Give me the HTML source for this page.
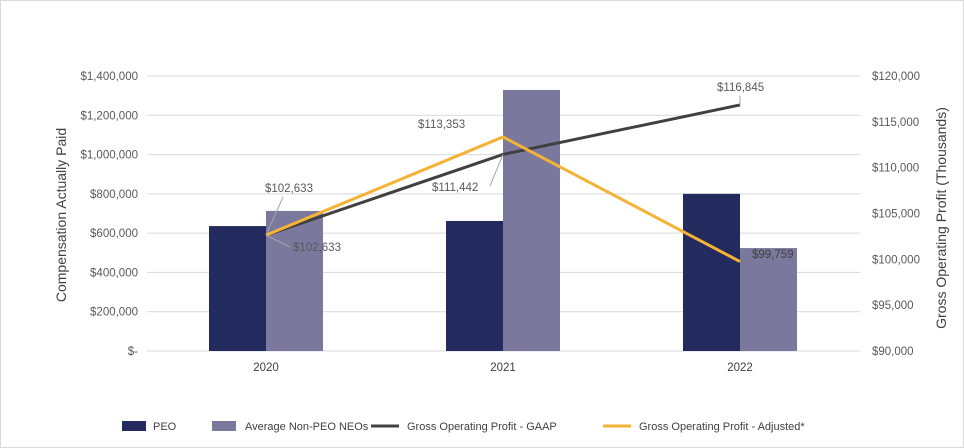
<!DOCTYPE html>
<html><head><meta charset="utf-8"><style>
body{margin:0;background:#fff;}
svg{display:block;font-family:"Liberation Sans",sans-serif;}
</style></head><body>
<svg id="chart" width="964" height="448" viewBox="0 0 964 448">
<rect x="0.5" y="0.5" width="963" height="447" fill="#fff" stroke="#d9d9d9"/>
<g id="grid"></g><g id="bars"></g><g id="lines"></g><g id="labels"></g><g id="axes"></g>
<text transform="translate(66,215) rotate(-90)" text-anchor="middle" font-size="14" fill="#404040">Compensation Actually Paid</text>
<text transform="translate(946,218) rotate(-90)" text-anchor="middle" font-size="14" fill="#404040">Gross Operating Profit (Thousands)</text>
<g font-size="11" fill="#404040">
<g><rect x="122" y="421" width="24" height="10" fill="#222a5e"/><text x="153" y="430">PEO</text></g>
<g><rect x="212" y="421" width="24" height="10" fill="#7b789e"/><text x="245" y="430">Average Non-PEO NEOs</text></g>
<g><line x1="371" y1="426" x2="399" y2="426" stroke="#404040" stroke-width="3"/><text x="407" y="430">Gross Operating Profit - GAAP</text></g>
<g><line x1="603" y1="426" x2="631" y2="426" stroke="#f5b335" stroke-width="3"/><text x="639" y="430">Gross Operating Profit - Adjusted*</text></g>
</g>
</svg>
<script>
const categories=["2020","2021","2022"];
const peoValues=[636000,662000,800000];
const neoValues=[713000,1329000,524000];
const gaapValues=[102633,111442,116845];
const adjustedValues=[102633,113353,99759];
const leftTicks=[0,200000,400000,600000,800000,1000000,1200000,1400000];
const leftTickLabels=["$-","$200,000","$400,000","$600,000","$800,000","$1,000,000","$1,200,000","$1,400,000"];
const rightTicks=[90000,95000,100000,105000,110000,115000,120000];
const rightTickLabels=["$90,000","$95,000","$100,000","$105,000","$110,000","$115,000","$120,000"];

const NS="http://www.w3.org/2000/svg";
const plotTop=76,plotBot=351,x0=147,x1=860;
const yL=v=>plotBot-(v/1400000)*(plotBot-plotTop);
const yR=v=>plotBot-((v-90000)/30000)*(plotBot-plotTop);
const xC=i=>266+i*237;
const bw=57;
function mk(parent,tag,attrs,txt){const e=document.createElementNS(NS,tag);for(const k in attrs)e.setAttribute(k,attrs[k]);if(txt!==undefined)e.textContent=txt;document.getElementById(parent).appendChild(e);return e;}

leftTicks.forEach((t,i)=>{
  const g=mk('grid','line',{x1:x0,x2:x1,y1:yL(t),y2:yL(t),stroke:'#d9d9d9','stroke-width':1});
  
  
  const l=mk('axes','text',{x:138,y:yL(t)+4,'text-anchor':'end','font-size':11.5,fill:'#595959'},leftTickLabels[i]);
  
  
});
rightTicks.forEach((t,i)=>{
  const l=mk('axes','text',{x:872,y:yR(t)+4,'font-size':11.5,fill:'#595959'},rightTickLabels[i]);
  
  
});
categories.forEach((c,i)=>{
  const l=mk('axes','text',{x:xC(i),y:371,'text-anchor':'middle','font-size':11.5,fill:'#404040'},c);
  
  
  const b1=mk('bars','rect',{x:xC(i)-bw,y:yL(peoValues[i]),width:bw,height:plotBot-yL(peoValues[i]),fill:'#222a5e'});
  
  
  const b2=mk('bars','rect',{x:xC(i),y:yL(neoValues[i]),width:bw,height:plotBot-yL(neoValues[i]),fill:'#7b789e'});
  
  
});
const gl=mk('lines','polyline',{points:gaapValues.map((v,i)=>xC(i)+','+yR(v)).join(' '),fill:'none',stroke:'#404040','stroke-width':3});


const al=mk('lines','polyline',{points:adjustedValues.map((v,i)=>xC(i)+','+yR(v)).join(' '),fill:'none',stroke:'#f5b335','stroke-width':3});



function fmt(v){return '$'+v.toLocaleString('en-US');}
function lab(txt,x,y,lx1,ly1,lx2,ly2,col){
  if(lx1!==null){const ln=mk('labels','line',{x1:lx1,y1:ly1,x2:lx2,y2:ly2,stroke:'#a6a6a6','stroke-width':1});
  
  }
  const t=mk('labels','text',{x:x,y:y,'font-size':11.5,fill:col||'#595959'},txt);
  
  
}
lab(fmt(adjustedValues[0]),265,192,266,yR(adjustedValues[0]),283,197);
lab(fmt(gaapValues[0]),293,251,266,yR(gaapValues[0]),290,247);
lab(fmt(adjustedValues[1]),418,128,null);
lab(fmt(gaapValues[1]),432,191,490,186,xC(1),yR(gaapValues[1]));
lab(fmt(gaapValues[2]),717,91,740,96,xC(2),yR(gaapValues[2]));
lab(fmt(adjustedValues[2]),752,258,null,0,0,0,'#404040');
</script>
</body></html>
